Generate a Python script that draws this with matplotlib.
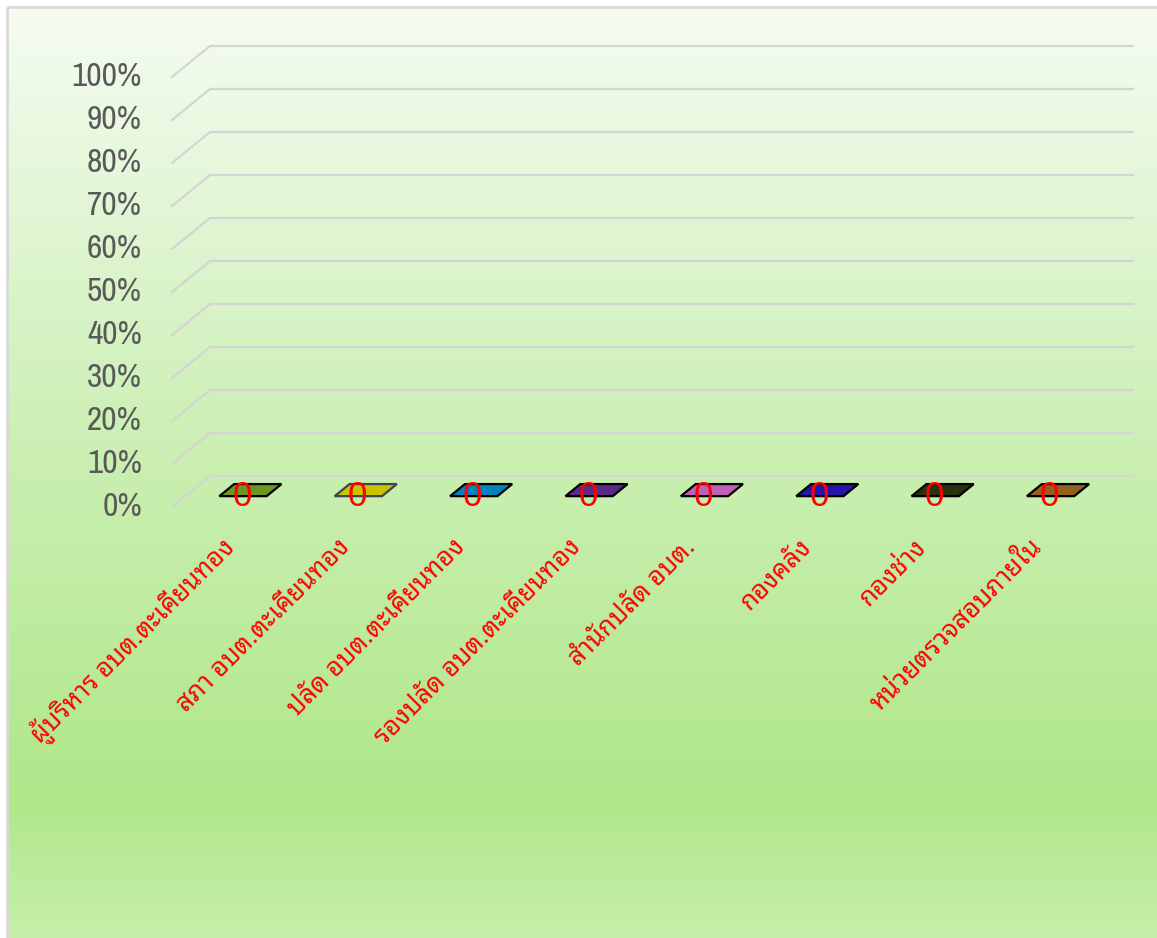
import numpy as np
import matplotlib
matplotlib.use("Agg")
import matplotlib.pyplot as plt
from matplotlib.patches import Polygon, Rectangle
from matplotlib.colors import LinearSegmentedColormap

# --------------------------
# DATA
# --------------------------
categories = [
    "ผู้บริหาร อบต.ตะเคียนทอง",
    "สภา อบต.ตะเคียนทอง",
    "ปลัด อบต.ตะเคียนทอง",
    "รองปลัด อบต.ตะเคียนทอง",
    "สำนักปลัด อบต.",
    "กองคลัง",
    "กองช่าง",
    "หน่วยตรวจสอบภายใน",
]
values = [0, 0, 0, 0, 0, 0, 0, 0]
value_labels = ["0", "0", "0", "0", "0", "0", "0", "0"]
y_ticks = [0, 0.1, 0.2, 0.3, 0.4, 0.5, 0.6, 0.7, 0.8, 0.9, 1.0]
y_tick_labels = ["0%", "10%", "20%", "30%", "40%", "50%", "60%", "70%", "80%", "90%", "100%"]
bar_colors = ["#6b961f", "#c8c400", "#0083bd", "#5b2a86", "#c060b4",
              "#2414a8", "#27330f", "#94601f"]
bar_edges = ["#000000", "#3a4650", "#000000", "#000000", "#000000",
             "#000000", "#000000", "#000000"]

THAI_FONT = ["Noto Sans Thai Looped", "DejaVu Sans"]
NUM_FONT = ["Archivo Narrow", "DejaVu Sans"]
VAL_FONT = ["Liberation Sans", "DejaVu Sans"]

# --------------------------
# FIGURE / BACKGROUND
# --------------------------
W, H = 1157, 938
fig = plt.figure(figsize=(W / 100, H / 100), dpi=100)
fig.patch.set_facecolor("white")

bg = fig.add_axes([0, 0, 1, 1])
bg.set_xlim(0, W)
bg.set_ylim(H, 0)
bg.axis("off")
grad = LinearSegmentedColormap.from_list(
    "bg", [(0, "#f5fcf2"), (0.45, "#cdf0b6"), (0.85, "#b0e78a"), (1, "#c6efaa")])
bg.imshow(np.linspace(0, 1, 256).reshape(-1, 1), cmap=grad, aspect="auto",
          extent=[7, W, H, 7], zorder=0)
bg.add_patch(Rectangle((7, 7), W + 10, H + 10, fill=False, ec="#d9d9d9", lw=2, zorder=1))

# --------------------------
# PLOT AREA (front plane)
# --------------------------
left, right, top, bottom = 172, 1095, 77, 507
ax = fig.add_axes([left / W, (H - bottom) / H, (right - left) / W, (bottom - top) / H])
ax.patch.set_visible(False)
ax.axis("off")
n = len(categories)
ax.set_xlim(-0.5, n - 0.5)
ax.set_ylim(0, 1)

px = n / (right - left)           # one pixel in x data units
dx = 38 * px                      # depth offset of the back wall
dy = 31 / (bottom - top)
label_x = -0.5 - 30 * px

for v, lab in zip(y_ticks, y_tick_labels):
    ax.plot([-0.5, -0.5 + dx, n - 0.5 + dx], [v, v + dy, v + dy],
            color="#d4d4d4", lw=1.6, clip_on=False, zorder=1)
    ax.text(label_x, v, lab, ha="right", va="center",
            fontsize=24, color="#595959", family=NUM_FONT)

# bars: flat tops (value 0) sitting in the middle of the depth
f0, f1 = 0.35, 0.74
w = 0.41
for i, (val, c, ec) in enumerate(zip(values, bar_colors, bar_edges)):
    pts = [(i - w / 2 + f0 * dx, val + f0 * dy), (i + w / 2 + f0 * dx, val + f0 * dy),
           (i + w / 2 + f1 * dx, val + f1 * dy), (i - w / 2 + f1 * dx, val + f1 * dy)]
    ax.add_patch(Polygon(pts, closed=True, fc=c, ec=ec, lw=1.6, clip_on=False, zorder=3))
    ax.text(i + f0 * dx - 1 * px, val + f0 * dy, value_labels[i], ha="center", va="center",
            fontsize=25, color="#ff0000", family=VAL_FONT, zorder=4)

# category labels, rotated 45 deg, ending just under each category
for i, lab in enumerate(categories):
    ax.text(i + 1 * px, -0.085, lab, rotation=45, rotation_mode="anchor",
            ha="right", va="center", fontsize=18.6, color="#ff0000",
            family=THAI_FONT)

fig.savefig("out.png", dpi=100)
